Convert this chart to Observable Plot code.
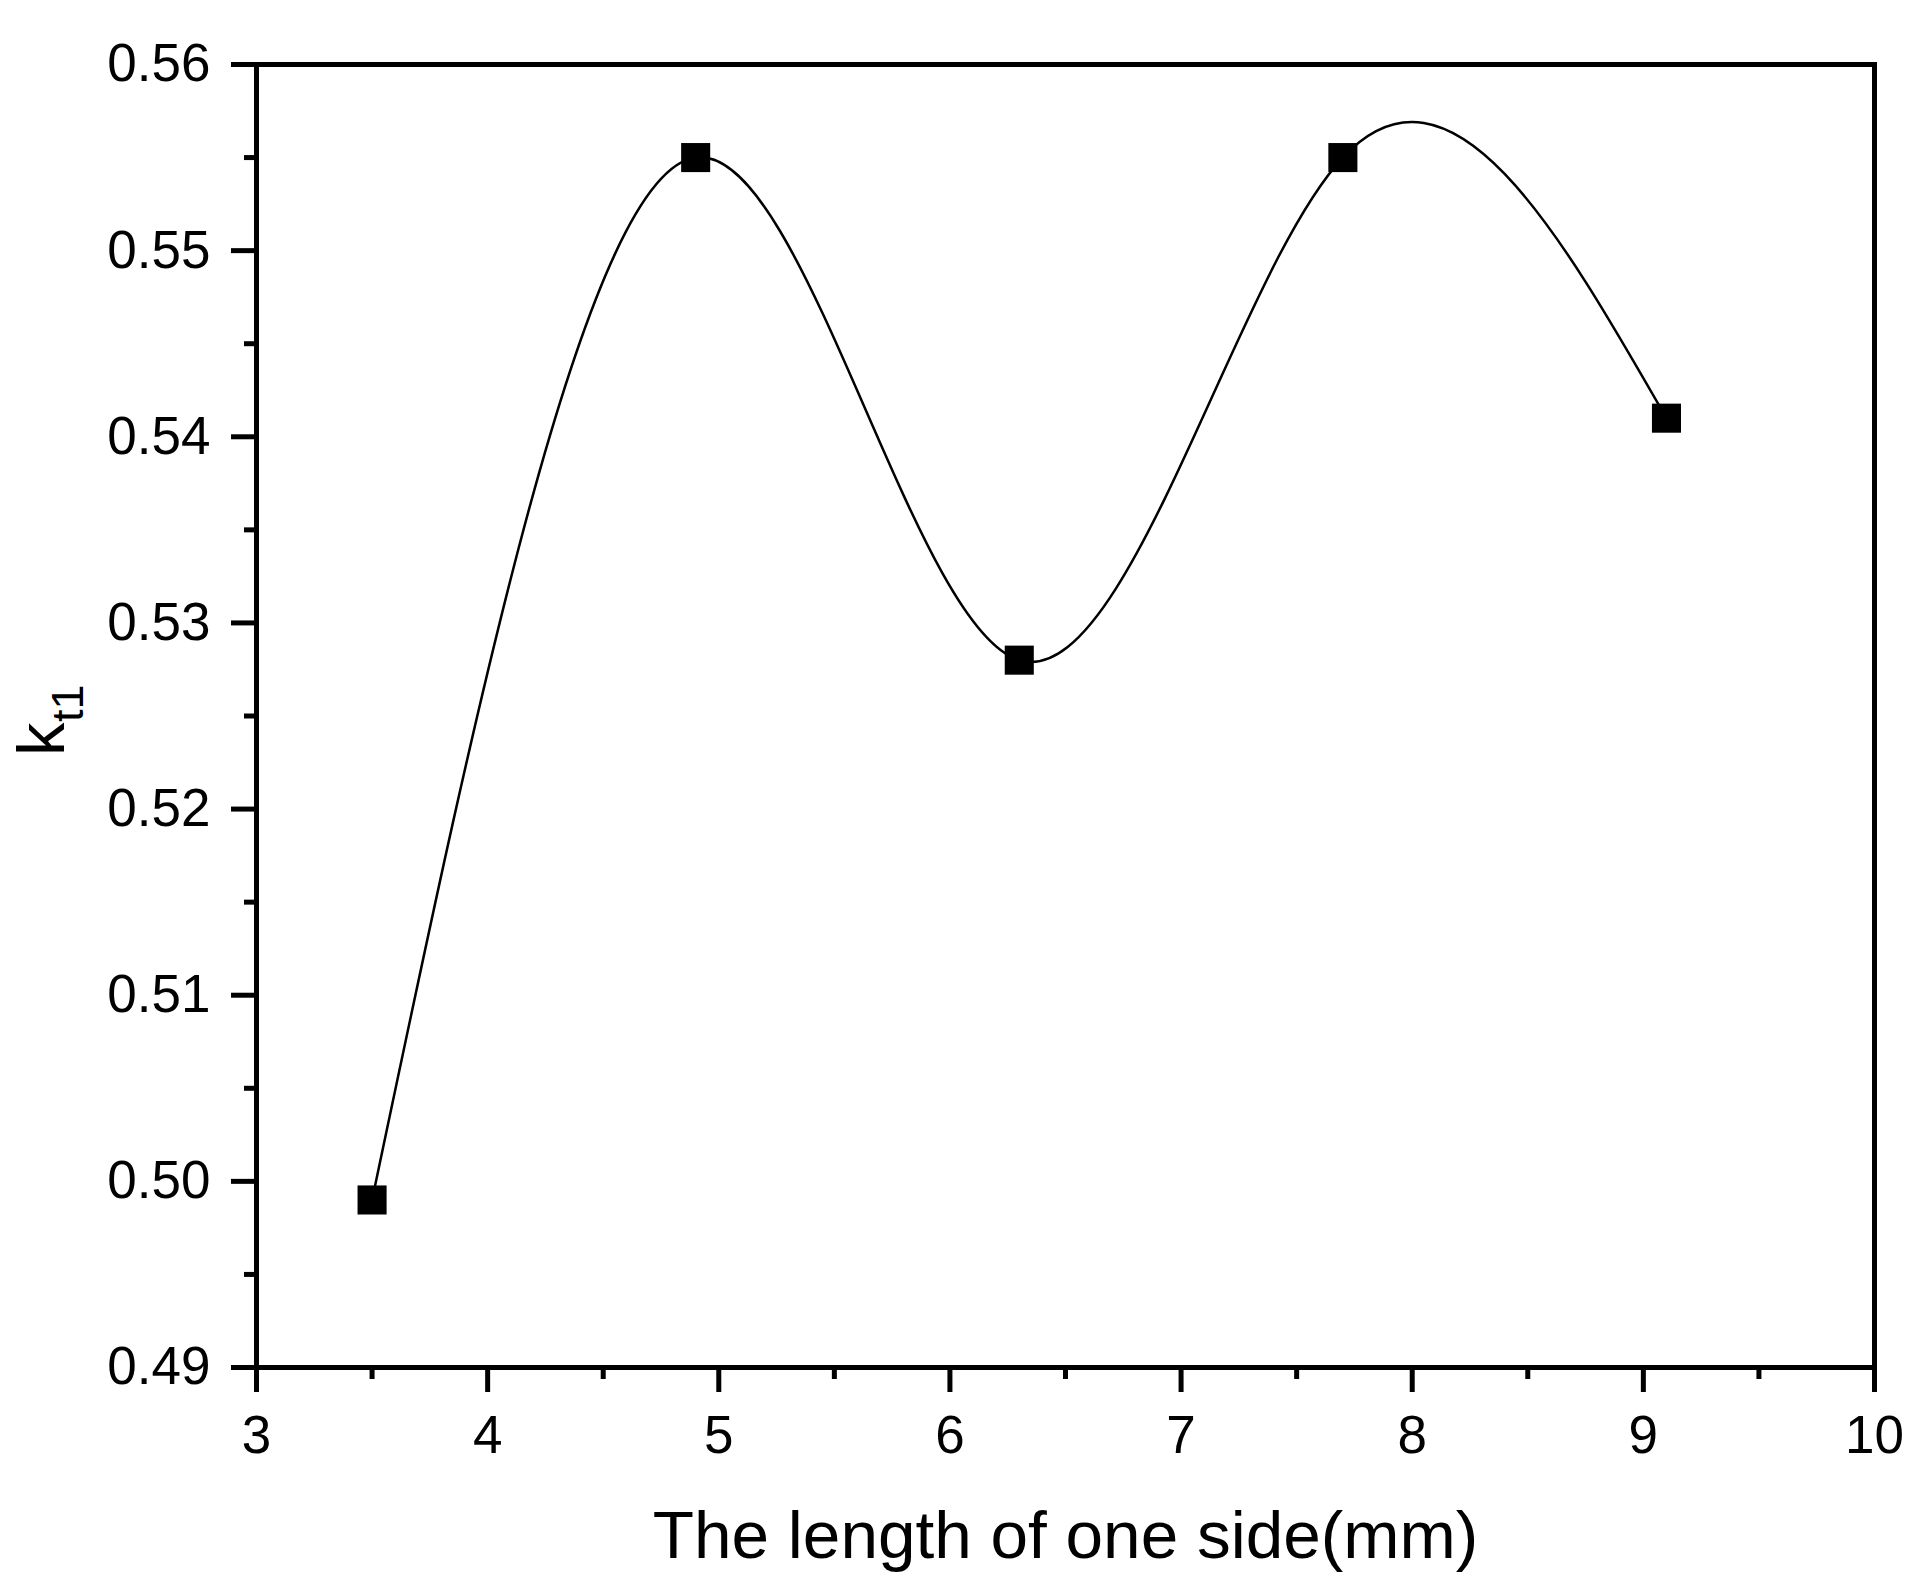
<!DOCTYPE html>
<html>
<head>
<meta charset="utf-8">
<script src="https://cdn.jsdelivr.net/npm/d3@7"></script>
<script src="https://cdn.jsdelivr.net/npm/@observablehq/plot@0.6"></script>
<style>
  html, body { margin: 0; padding: 0; background: #fff; color: #000; }
  #chart svg { display: block; }
</style>
</head>
<body>
<div id="chart"></div>
<script>
// Data
const sideLength = [3.5, 4.9, 6.3, 7.7, 9.1];
const kt1 = [0.499, 0.555, 0.528, 0.555, 0.541];

// Axis ticks
const xMajorTicks = [3, 4, 5, 6, 7, 8, 9, 10];
const xMinorTicks = [3.5, 4.5, 5.5, 6.5, 7.5, 8.5, 9.5];
const yMajorTicks = [0.49, 0.50, 0.51, 0.52, 0.53, 0.54, 0.55, 0.56];
const yMinorTicks = [0.495, 0.505, 0.515, 0.525, 0.535, 0.545, 0.555];

// Labels
const xLabel = ["The length of one side(mm)"];
const yLabelMain = ["k"];
const yLabelSub = ["t1"];

const points = sideLength.map((x, i) => ({x, y: kt1[i]}));

const chart = Plot.plot({
  width: 1929,
  height: 1593,
  marginLeft: 256,
  marginRight: 55,
  marginTop: 64,
  marginBottom: 226,
  style: {fontFamily: "'Liberation Sans', Arial, sans-serif", background: "#fff", color: "#000"},
  x: {domain: [3, 10]},
  y: {domain: [0.49, 0.56]},
  marks: [
    Plot.line(points, {x: "x", y: "y", curve: "natural", stroke: "#000", strokeWidth: 2.5}),
    Plot.dot(points, {x: "x", y: "y", symbol: "square", r: 16.4, fill: "#000", stroke: "none"}),
    Plot.axisX(xMajorTicks, {tickSize: 25, tickPadding: 23, tickFormat: "d", strokeWidth: 5, fontSize: 53, label: null}),
    Plot.axisX(xMinorTicks, {tickSize: 12, tickFormat: () => "", strokeWidth: 5, label: null}),
    Plot.axisY(yMajorTicks, {tickSize: 25, tickPadding: 21, tickFormat: ".2f", strokeWidth: 5, fontSize: 53, label: null}),
    Plot.axisY(yMinorTicks, {tickSize: 12, tickFormat: () => "", strokeWidth: 5, label: null}),
    Plot.frame({stroke: "#000", strokeWidth: 5}),
    Plot.text(xLabel, {text: d => d, frameAnchor: "bottom", lineAnchor: "bottom", textAnchor: "middle", dy: 190, fontSize: 67.5, fill: "#000"}),
    Plot.text(yLabelMain, {text: d => d, frameAnchor: "left", lineAnchor: "bottom", textAnchor: "start", rotate: -90, dx: -193, dy: 40, fontSize: 67, fill: "#000"}),
    Plot.text(yLabelSub, {text: d => d, frameAnchor: "left", lineAnchor: "bottom", textAnchor: "start", rotate: -90, dx: -174, dy: 6, fontSize: 45, fill: "#000"})
  ]
});

document.getElementById("chart").appendChild(chart);
</script>
</body>
</html>
